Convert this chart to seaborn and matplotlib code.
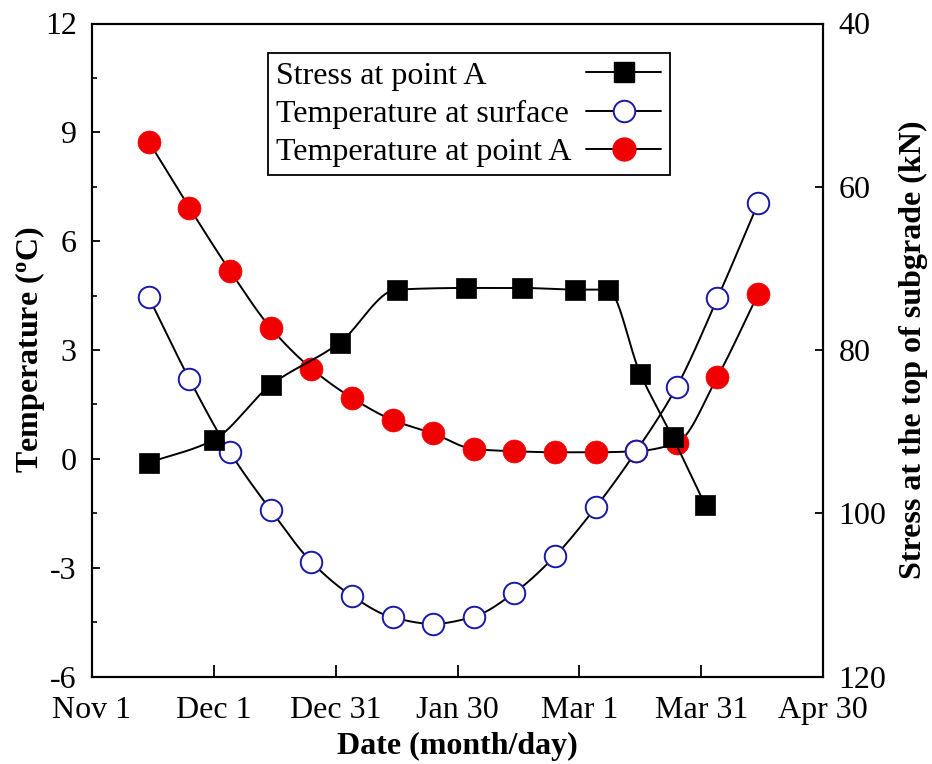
import numpy as np
import matplotlib
matplotlib.use("Agg")
import matplotlib.pyplot as plt
from matplotlib.lines import Line2D
from matplotlib.ticker import MultipleLocator, FixedLocator
import seaborn as sns

# Day offsets are counted from Nov 1
temp_days = [14, 24, 34, 44, 54, 64, 74, 84, 94, 104, 114, 124, 134, 144, 154, 164]
temp_point_a = [8.74, 6.92, 5.18, 3.61, 2.49, 1.68, 1.07, 0.70, 0.27, 0.21,
                0.18, 0.18, 0.21, 0.44, 2.26, 4.54]
temp_surface = [4.45, 2.19, 0.18, -1.41, -2.84, -3.78, -4.37, -4.55, -4.35, -3.69,
                -2.68, -1.34, 0.21, 1.99, 4.42, 7.04]
stress_days = [14, 30, 44, 61, 75, 92, 106, 119, 127, 135, 143, 151]
stress_a = [93.8, 91.0, 84.3, 79.1, 72.6, 72.4, 72.4, 72.6, 72.6, 82.9, 90.7, 99.0]

date_ticks = [0, 30, 60, 90, 120, 150, 180]
date_labels = ["Nov 1", "Dec 1", "Dec 31", "Jan 30", "Mar 1", "Mar 31", "Apr 30"]
temp_ticks = [-6, -3, 0, 3, 6, 9, 12]
stress_ticks = [40, 60, 80, 100, 120]

series_labels = ["Stress at point A", "Temperature at surface", "Temperature at point A"]


def pchip_curve(x, y, num=400):
    """Shape-preserving cubic Hermite curve through the given points."""
    x = np.asarray(x, float)
    y = np.asarray(y, float)
    h = np.diff(x)
    delta = np.diff(y) / h
    n = len(x)
    d = np.zeros(n)
    for k in range(1, n - 1):
        if delta[k - 1] * delta[k] > 0:
            w1 = 2 * h[k] + h[k - 1]
            w2 = h[k] + 2 * h[k - 1]
            d[k] = (w1 + w2) / (w1 / delta[k - 1] + w2 / delta[k])
    d[0] = delta[0]
    d[-1] = delta[-1]
    xs = np.linspace(x[0], x[-1], num)
    idx = np.clip(np.searchsorted(x, xs) - 1, 0, n - 2)
    t = (xs - x[idx]) / h[idx]
    h00 = 2 * t**3 - 3 * t**2 + 1
    h10 = t**3 - 2 * t**2 + t
    h01 = -2 * t**3 + 3 * t**2
    h11 = t**3 - t**2
    ys = (h00 * y[idx] + h10 * h[idx] * d[idx]
          + h01 * y[idx + 1] + h11 * h[idx] * d[idx + 1])
    return xs, ys


sns.set_theme(style="ticks")
plt.rcParams["font.family"] = ["Liberation Serif", "DejaVu Serif"]
plt.rcParams["mathtext.default"] = "regular"
plt.rcParams["axes.linewidth"] = 1.5
plt.rcParams["axes.unicode_minus"] = False
for key in ("text.color", "axes.labelcolor", "xtick.color", "ytick.color",
            "axes.edgecolor"):
    plt.rcParams[key] = "black"

FS = 23
BLUE = "#1a1aa8"
RED = "#f00000"
LW = 1.4

fig = plt.figure(figsize=(9.32, 7.64), dpi=100)
ax = fig.add_axes([92 / 932, 1 - 676.5 / 764, 731 / 932, 653 / 764])
ax2 = ax.twinx()

# Temperature at point A
cx, cy = pchip_curve(temp_days, temp_point_a)
sns.lineplot(x=cx, y=cy, ax=ax, color="black", lw=LW, zorder=2, sort=False)
sns.scatterplot(x=temp_days, y=temp_point_a, ax=ax, marker="o", s=16.5**2,
                color=RED, edgecolor=RED, linewidth=0.5, zorder=3)

# Temperature at surface
cx, cy = pchip_curve(temp_days, temp_surface)
sns.lineplot(x=cx, y=cy, ax=ax, color="black", lw=LW, zorder=4, sort=False)
sns.scatterplot(x=temp_days, y=temp_surface, ax=ax, marker="o", s=15.5**2,
                facecolor="white", edgecolor=BLUE, linewidth=1.4, zorder=5)

# Stress at point A on the right axis
cx, cy = pchip_curve(stress_days, stress_a)
sns.lineplot(x=cx, y=cy, ax=ax2, color="black", lw=LW, zorder=2, sort=False)
sns.scatterplot(x=stress_days, y=stress_a, ax=ax2, marker="s", s=15**2,
                color="black", edgecolor="black", linewidth=0.5, zorder=3)

ax.set_xlim(0, 180)
ax.set_ylim(-6, 12)
ax2.set_ylim(120, 40)

ax.xaxis.set_major_locator(FixedLocator(date_ticks))
ax.set_xticklabels(date_labels)
ax.yaxis.set_major_locator(FixedLocator(temp_ticks))
ax.yaxis.set_minor_locator(MultipleLocator(1.5))
ax2.yaxis.set_major_locator(FixedLocator(stress_ticks))

ax.tick_params(axis="x", which="major", direction="in", length=8.5, width=1.3,
               labelsize=FS, pad=14, top=False)
ax.tick_params(axis="y", which="major", direction="in", length=6, width=1.3,
               labelsize=FS, pad=11, right=False)
ax.tick_params(axis="y", which="minor", direction="in", length=3.5, width=1.2,
               right=False)
ax2.tick_params(axis="y", which="major", direction="in", length=6, width=1.3,
                labelsize=FS, pad=11)

for a in (ax, ax2):
    for sp in a.spines.values():
        sp.set_linewidth(1.5)
        sp.set_color("black")

ax.set_xlabel("Date (month/day)", fontsize=FS, fontweight="bold", labelpad=5)
ax.set_ylabel("Temperature ($^{o}$C)", fontsize=FS, fontweight="bold")
ax.yaxis.set_label_coords(-0.061, 0.5)
ax2.set_ylabel("Stress at the top of subgrade (kN)", fontsize=FS, fontweight="bold")
ax2.yaxis.set_label_coords(1.104, 0.5)

handles = [
    Line2D([], [], color="black", lw=LW, marker="s", markersize=15,
           markerfacecolor="black", markeredgecolor="black"),
    Line2D([], [], color="black", lw=LW, marker="o", markersize=15.5,
           markerfacecolor="white", markeredgecolor=BLUE, markeredgewidth=1.4),
    Line2D([], [], color="black", lw=LW, marker="o", markersize=16.5,
           markerfacecolor=RED, markeredgecolor=RED),
]
leg = ax2.legend(handles, series_labels, loc="upper left",
                 bbox_to_anchor=(0.241, 0.955), borderaxespad=0,
                 markerfirst=False, fontsize=FS, frameon=True, fancybox=False,
                 framealpha=1, edgecolor="black", handlelength=2.35,
                 handletextpad=0.45, labelspacing=0.28, borderpad=0.26)
leg.get_frame().set_linewidth(1.3)

# Keep label text left-aligned while the handles share one right-hand column
fig.canvas.draw()
renderer = fig.canvas.get_renderer()
widths = [t.get_window_extent(renderer).width for t in leg.get_texts()]
wmax = max(widths)
px_per_pt = renderer.points_to_pixels(1.0)
column = leg._legend_handle_box.get_children()[0]
for row, w in zip(column.get_children(), widths):
    row.sep = 0.45 * FS + (wmax - w) / px_per_pt

fig.savefig("out.png", dpi=100)
